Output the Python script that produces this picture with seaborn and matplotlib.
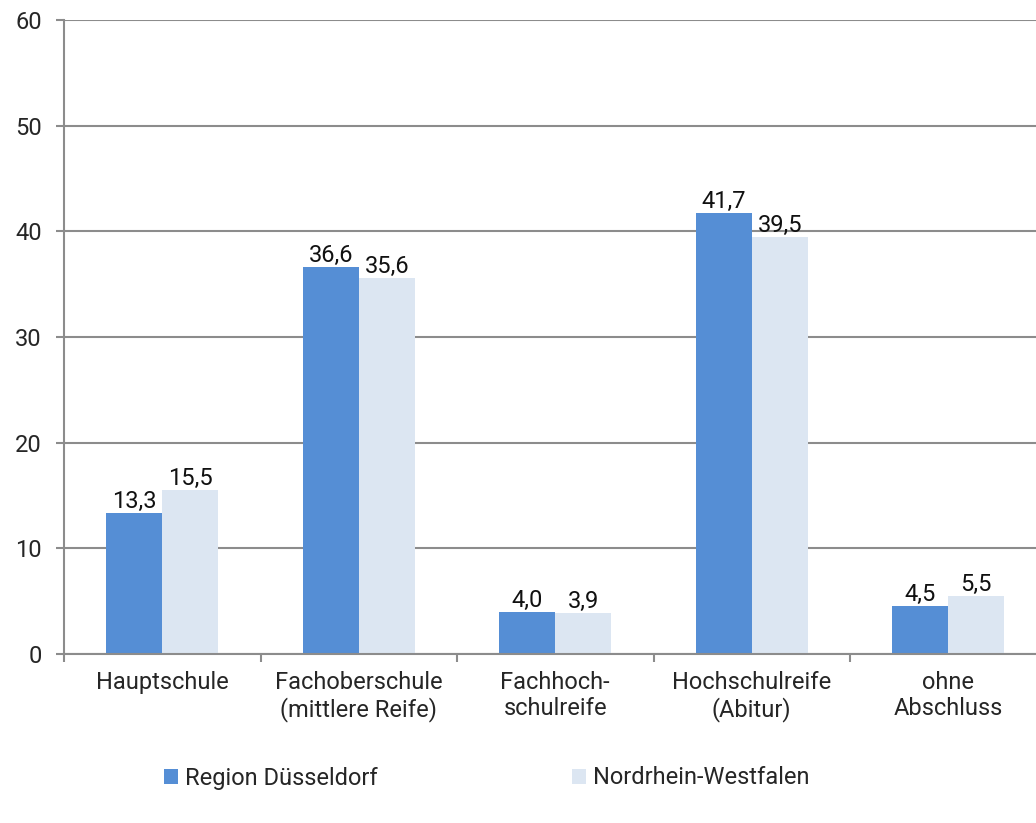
import pandas as pd
import seaborn as sns
import matplotlib.pyplot as plt

categories = ["Hauptschule", "Fachoberschule\n(mittlere Reife)", "Fachhoch-\nschulreife",
              "Hochschulreife\n(Abitur)", "ohne\nAbschluss"]
region = [13.3, 36.6, 4.0, 41.7, 4.5]
nrw = [15.5, 35.6, 3.9, 39.5, 5.5]
series = ["Region Düsseldorf", "Nordrhein-Westfalen"]

df = pd.DataFrame({
    "cat": categories * 2,
    "value": region + nrw,
    "series": [series[0]] * 5 + [series[1]] * 5,
})

sns.set_style("white")
plt.rcParams["font.family"] = ["Roboto", "DejaVu Sans"]
fs = 17

fig = plt.figure(figsize=(10.36, 8.23), dpi=100)
ax = fig.add_axes([64 / 1036, 1 - 654 / 823, 982.5 / 1036, 634 / 823])

sns.barplot(data=df, x="cat", y="value", hue="series", palette=["#558ed5", "#dce6f2"],
            width=0.57, gap=0, saturation=1, linewidth=0, ax=ax, legend=True)

for cont in ax.containers:
    ax.bar_label(cont, labels=[f"{v:.1f}".replace(".", ",") for v in cont.datavalues],
                 fontsize=fs, padding=0, color="#111111")

ax.set_ylim(0, 60)
ax.set_xlim(-0.5, 4.5)
ax.set_yticks(range(0, 61, 10))
ax.yaxis.grid(True, color="#8c8c8c", linewidth=1.5)
ax.set_axisbelow(True)
ax.set_xlabel("")
ax.set_ylabel("")

for s in ["top", "right"]:
    ax.spines[s].set_visible(False)
for s in ["left", "bottom"]:
    ax.spines[s].set_color("#8c8c8c")
    ax.spines[s].set_linewidth(1.5)

ax.tick_params(axis="y", length=6, width=1.5, color="#8c8c8c", labelsize=fs, pad=10, left=True)
ax.tick_params(axis="x", length=0, labelsize=fs, pad=12)
ax.set_xticks([i - 0.5 for i in range(6)], minor=True)
ax.tick_params(axis="x", which="minor", length=6, width=1.5, color="#8c8c8c", bottom=True)

ax.get_legend().remove()
handles, labels = ax.get_legend_handles_labels()
fig.legend(handles, labels, loc="center", bbox_to_anchor=(0.47, 1 - 778 / 823), ncol=2,
           frameon=False, fontsize=fs, handlelength=0.6, handleheight=0.6,
           handletextpad=0.3, columnspacing=8.2)

fig.savefig("out.png", dpi=100)
